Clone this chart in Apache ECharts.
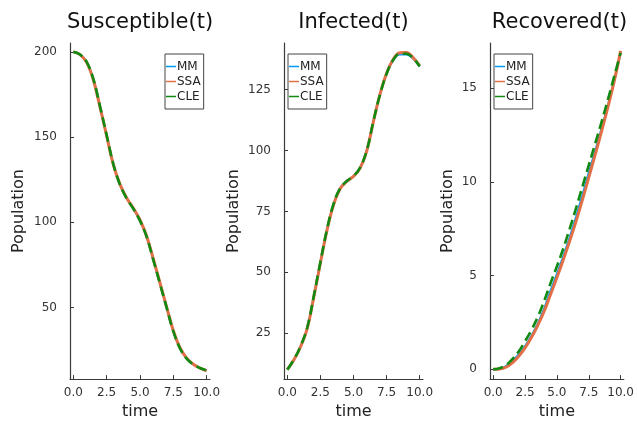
<!DOCTYPE html>
<html>
<head>
<meta charset="utf-8">
<script src="https://cdn.jsdelivr.net/npm/echarts@6/dist/echarts.min.js"></script>
<style>
  html, body { margin: 0; padding: 0; background: #fff; }
  #chart { width: 637px; height: 425px; }
</style>
</head>
<body>
<div id="chart"></div>
<script>
// time grid
var times = [0, 0.5, 1, 1.5, 2, 2.5, 3, 3.5, 4, 4.5, 5, 5.5, 6, 6.5, 7, 7.5, 8, 8.5, 9, 9.5, 10];

// Susceptible
var susMM  = [200, 198.5, 194, 184, 168, 151, 134, 122, 114, 108, 101, 91.5, 78, 64, 50, 36, 26, 20, 16.5, 14.5, 13];
var susSSA = [200, 198.4, 193.8, 183.6, 167.6, 150.6, 133.8, 122.2, 114.2, 108.2, 101.3, 91.8, 78.4, 64.3, 50.2, 36.3, 26.3, 20.2, 16.6, 14.4, 12.8];
var susCLE = [200, 198.5, 194.1, 184.1, 168.1, 151.1, 134.1, 122, 113.9, 107.9, 100.9, 91.4, 77.8, 63.8, 49.8, 35.9, 25.9, 19.9, 16.4, 14.4, 12.9];

// Infected
var infMM  = [10, 14, 19.5, 27, 40, 54, 67.5, 78, 84.5, 87.5, 89.5, 93, 100, 112, 123, 131.5, 137, 139.5, 139.5, 137.8, 134.5];
var infSSA = [10, 14, 19.4, 26.8, 39.8, 53.8, 67.3, 77.8, 84.4, 87.4, 89.4, 92.8, 99.8, 111.8, 123.1, 131.8, 137.5, 140.2, 140.3, 138.2, 134.8];
var infCLE = [10, 14.1, 19.6, 27.2, 40.2, 54.2, 67.7, 78.2, 84.6, 87.5, 89.5, 93, 100, 112, 123, 131.6, 137.2, 139.8, 139.8, 138, 134.6];

// Recovered
var recMM  = [0, 0.04, 0.18, 0.45, 0.8, 1.25, 1.8, 2.45, 3.25, 4.2, 5.1, 6.05, 7.05, 8.15, 9.3, 10.5, 11.65, 12.85, 14.1, 15.4, 16.9];
var recSSA = [0, 0.02, 0.12, 0.35, 0.7, 1.15, 1.7, 2.35, 3.1, 4.0, 4.9, 5.85, 6.85, 7.9, 9.05, 10.25, 11.45, 12.7, 14.0, 15.4, 17.0];
var recCLE = [0, 0.06, 0.22, 0.55, 0.95, 1.5, 2.1, 2.8, 3.65, 4.6, 5.5, 6.45, 7.5, 8.6, 9.75, 10.9, 12.05, 13.2, 14.4, 15.65, 16.9];

// tick labels
var xTicks = [0, 2.5, 5, 7.5, 10];
var susTicks = [50, 100, 150, 200];
var infTicks = [25, 50, 75, 100, 125];
var recTicks = [0, 5, 10, 15];

var titles = ['Susceptible(t)', 'Infected(t)', 'Recovered(t)'];
var seriesNames = ['MM', 'SSA', 'CLE'];

var FONT = 'DejaVu Sans';
var AXIS_COLOR = '#3a3a3a';
var colors = {MM: '#009AFA', SSA: '#E36F47', CLE: '#118a11'};

var panels = [
  {left: 70,  width: 140, nameGap: 43, ymin: 7.9, ymax: 205.2, ticks: susTicks, data: [susMM, susSSA, susCLE]},
  {left: 284, width: 139, nameGap: 42, ymin: 6.1, ymax: 144.2, ticks: infTicks, data: [infMM, infSSA, infCLE]},
  {left: 490, width: 139, nameGap: 34, ymin: -0.52, ymax: 17.42, ticks: recTicks, data: [recMM, recSSA, recCLE]}
];

function pairs(ys) {
  return times.map(function (t, i) { return [t, ys[i]]; });
}

var grid = [], xAxis = [], yAxis = [], series = [], title = [], legend = [];

panels.forEach(function (p, k) {
  grid.push({left: p.left, top: 43, width: p.width, height: 342});

  title.push({
    text: titles[k],
    left: p.left + p.width / 2,
    top: 12,
    padding: 0,
    textAlign: 'center',
    textStyle: {fontFamily: FONT, fontSize: 21, fontWeight: 'normal', color: '#111'}
  });

  xAxis.push({
    type: 'value', gridIndex: k, min: -0.25, max: 10.25,
    name: 'time', nameLocation: 'middle', nameGap: 24,
    nameTextStyle: {fontFamily: FONT, fontSize: 16, color: '#222'},
    axisLine: {show: true, onZero: false, lineStyle: {color: AXIS_COLOR, width: 1.2}},
    axisTick: {show: true, inside: true, length: 4, customValues: xTicks, lineStyle: {color: AXIS_COLOR}},
    axisLabel: {
      customValues: xTicks, margin: 8, fontFamily: FONT, fontSize: 12, color: '#333',
      formatter: function (v) { return v.toFixed(1); }
    },
    splitLine: {show: false}
  });

  yAxis.push({
    type: 'value', gridIndex: k, min: p.ymin, max: p.ymax,
    name: 'Population', nameLocation: 'middle', nameGap: p.nameGap,
    nameTextStyle: {fontFamily: FONT, fontSize: 16, color: '#222'},
    axisLine: {show: true, onZero: false, lineStyle: {color: AXIS_COLOR, width: 1.2}},
    axisTick: {show: true, inside: true, length: 4, customValues: p.ticks, lineStyle: {color: AXIS_COLOR}},
    axisLabel: {
      customValues: p.ticks, margin: 13, fontFamily: FONT, fontSize: 12, color: '#333',
      formatter: function (v) { return String(Math.round(v)); }
    },
    splitLine: {show: false}
  });

  seriesNames.forEach(function (name, j) {
    series.push({
      name: name,
      type: 'line',
      xAxisIndex: k, yAxisIndex: k,
      data: pairs(p.data[j]),
      smooth: 0.4,
      showSymbol: false,
      symbol: 'none',
      lineStyle: {
        color: colors[name],
        width: name === 'MM' ? 2 : (name === 'SSA' ? 3 : 2.6),
        type: name === 'CLE' ? [10, 5] : 'solid'
      },
      itemStyle: {color: colors[name]},
      z: 2 + j
    });
  });

  legend.push({
    data: seriesNames,
    orient: 'vertical',
    left: k === 0 ? 165 : p.left + 4,
    top: 54,
    icon: 'rect',
    itemWidth: 10,
    itemHeight: 1.5,
    itemGap: 0,
    padding: [5, 3, 5, 1],
    backgroundColor: '#fff',
    borderColor: '#444',
    borderWidth: 1,
    textStyle: {fontFamily: FONT, fontSize: 12, color: '#222', lineHeight: 15, padding: [0, 0, 0, -4]},
    selectedMode: false,
    z: 10
  });
});

var chart = echarts.init(document.getElementById('chart'), null, {renderer: 'canvas'});
chart.setOption({
  backgroundColor: '#fff',
  animation: false,
  title: title,
  legend: legend,
  grid: grid,
  xAxis: xAxis,
  yAxis: yAxis,
  series: series
});
</script>
</body>
</html>
